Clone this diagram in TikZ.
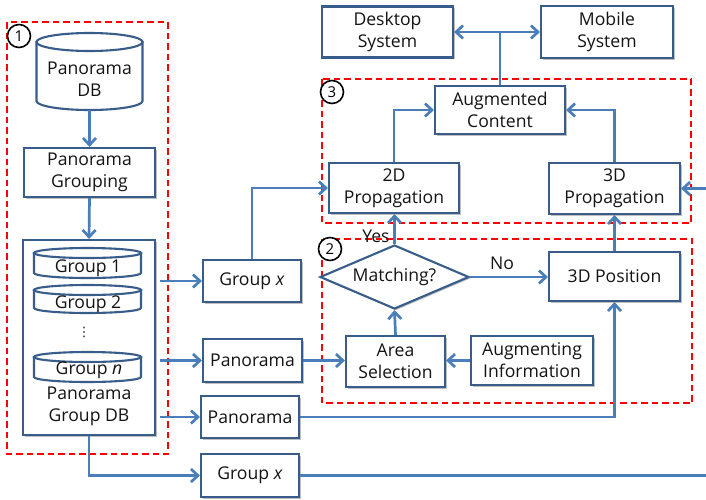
\documentclass[tikz,border=0pt]{standalone}
\usepackage{fontspec}
\setmainfont{Open Sans}
\newfontfamily\djv{DejaVu Sans}
\usetikzlibrary{arrows.meta,shapes.geometric,shadows}
\definecolor{boxc}{RGB}{56,93,138}
\definecolor{linec}{RGB}{74,126,187}
\definecolor{txtc}{RGB}{20,20,20}
\tikzset{
  box/.style={draw=boxc, line width=2.1pt, fill=white, align=center, inner sep=0pt,
    text=txtc, font=\fontsize{17.6}{22}\selectfont,
    drop shadow={shadow xshift=1.5pt, shadow yshift=-1.5pt, opacity=0.25, fill=black}},
  cylb/.style={draw=boxc, line width=2.1pt, fill=white},
  lbl/.style={text=txtc, align=center, inner sep=0pt, font=\fontsize{17.6}{22}\selectfont},
  conn/.style={draw=linec, line width=2.7pt, -{Straight Barb[length=7pt,width=13pt]}},
  plain/.style={draw=linec, line width=2.7pt},
  region/.style={draw=red, line width=1.9pt, dash pattern=on 6.5pt off 4pt},
  num/.style={circle, draw=black, line width=1.6pt, fill=white, minimum size=23pt,
    inner sep=0pt, font=\fontsize{15}{15}\selectfont}
}
\begin{document}
\begin{tikzpicture}[x=1pt,y=-1pt]
\useasboundingbox (0,0) rectangle (706,499);
% dashed regions
\draw[region] (7,22) rectangle (168,454);
\draw[region] (322,79) rectangle (691,223);
\draw[region] (322,239) rectangle (692,403);

% Panorama DB cylinder
\draw[cylb] (36.5,42) -- (36.5,101) arc[start angle=180,end angle=360,x radius=53pt,y radius=9pt] -- (142.5,42) -- cycle;
\draw[cylb] (89.5,42) ellipse [x radius=53pt, y radius=9pt];
\node[lbl, minimum width=106pt, minimum height=62pt] (pdb) at (89.5,79) {Panorama\\DB};

\node[box, minimum width=131pt, minimum height=49pt] (grp) at (89.5,172.5) {Panorama\\Grouping};

% Panorama Group DB container
\node[box, minimum width=132pt, minimum height=195pt] (gdb) at (89,337.5) {};
\draw[cylb] (34,253) -- (34,273) arc[start angle=180,end angle=360,x radius=53.5pt,y radius=5pt] -- (141,253) -- cycle;
\draw[cylb] (87.5,253) ellipse [x radius=53.5pt, y radius=5pt];
\node[lbl] (g1) at (88,268) {Group 1};
\draw[cylb] (34,290) -- (34,308) arc[start angle=180,end angle=360,x radius=53.5pt,y radius=5pt] -- (141,290) -- cycle;
\draw[cylb] (87.5,290) ellipse [x radius=53.5pt, y radius=5pt];
\node[lbl] (g2) at (88,304.5) {Group 2};
\node[lbl, font=\djv\fontsize{13}{13}\selectfont] (gdots) at (84,332) {⋮};
\draw[cylb] (34,357) -- (34,377) arc[start angle=180,end angle=360,x radius=53.5pt,y radius=5pt] -- (141,357) -- cycle;
\draw[cylb] (87.5,357) ellipse [x radius=53.5pt, y radius=5pt];
\node[lbl] (gn) at (89,370) {Group \textit{n}};
\node[lbl] (gdbt) at (89,406) {Panorama\\Group DB};

% middle column
\node[box, minimum width=98pt, minimum height=42pt] (gx1) at (252,281) {Group \textit{x}};
\node[box, minimum width=99pt, minimum height=43pt] (pan1) at (252.5,360.5) {Panorama};
\node[box, minimum width=98pt, minimum height=42pt] (pan2) at (250,417) {Panorama};
\node[box, minimum width=98pt, minimum height=43pt] (gx2) at (250,475.5) {Group \textit{x}};

% top
\node[box, minimum width=131pt, minimum height=51pt] (desk) at (387.5,32) {Desktop\\System};
\node[box, minimum width=132pt, minimum height=52pt] (mob) at (607,32) {Mobile\\System};
\node[box, minimum width=130pt, minimum height=48pt] (aug) at (500,110) {Augmented\\Content};
\node[box, minimum width=130pt, minimum height=50pt] (p2d) at (394,188) {2D\\Propagation};
\node[box, minimum width=131pt, minimum height=51pt] (p3d) at (614.5,188.5) {3D\\Propagation};

% region 2
\node[box, diamond, aspect=2.33, minimum width=149pt, minimum height=64pt] (match) at (394.5,277) {Matching?};
\node[box, minimum width=131pt, minimum height=49pt] (pos) at (614.5,276.5) {3D Position};
\node[box, minimum width=99pt, minimum height=51pt] (area) at (395.5,361.5) {Area\\Selection};
\node[box, minimum width=122pt, minimum height=49pt] (ainfo) at (532,360.5) {Augmenting\\Information};

% numbers
\node[num] (n1) at (19,36) {1};
\node[num] (n3) at (332,92) {3};
\node[num] (n2) at (330,249) {2};

% free ends
\coordinate (s1) at (160,281);
\coordinate (s2) at (160,360.5);
\coordinate (s3) at (160,417);
\coordinate (eR) at (706,475.5);
\coordinate (eP) at (706,188.5);

% connectors
\draw[conn] (pdb.south) -- (grp.north);
\draw[conn] (grp.south) -- (gdb.north);
\draw[conn] (s1) -- (gx1.west);
\draw[conn] (s2) -- (pan1.west);
\draw[conn] (s3) -- (pan2.west);
\draw[conn] (gdb.south) |- (gx2.west);
\draw[plain] (gx2.east) -- (eR);
\draw[conn] (gx1.north) |- (p2d.west);
\draw[conn] (pan1.east) -- (area.west |- pan1.east);
\draw[conn] (ainfo.west) -- (area.east |- ainfo.west);
\draw[conn] (area.north) -- (match.south);
\draw[conn] (match.north) -- (p2d.south -| match.north);
\draw[conn] (match.east) -- (pos.west |- match.east);
\draw[conn] (pos.north) -- (p3d.south);
\draw[conn] (pan2.east) -| (pos.south);
\draw[conn] (eP) -- (p3d.east);
\draw[conn] (p2d.north) |- (aug.west);
\draw[conn] (p3d.north) |- (aug.east);
\draw[conn] (aug.north) |- (desk.east);
\draw[conn] (aug.north) |- (mob.west);

% labels
\node[lbl] (yes) at (376,236) {Yes};
\node[lbl] (no) at (502,263) {No};
\end{tikzpicture}
\end{document}
